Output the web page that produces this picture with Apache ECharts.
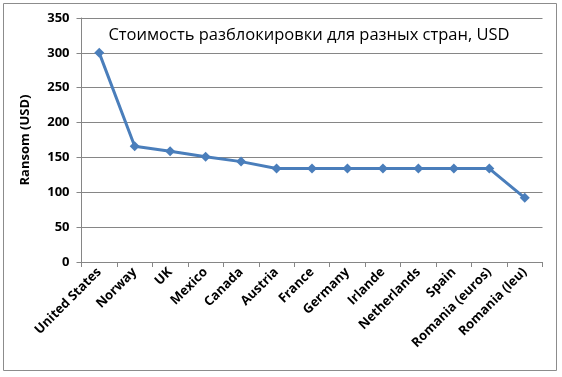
<!DOCTYPE html>
<html><head><meta charset="utf-8">
<script src="https://cdn.jsdelivr.net/npm/echarts@6/dist/echarts.min.js"></script>
<style>html,body{margin:0;padding:0;background:#fff}#c{width:562px;height:377px}</style>
</head><body><div id="c"></div>
<script>
const categories = ['United States','Norway','UK','Mexico','Canada','Austria','France','Germany','Irlande','Netherlands','Spain','Romania (euros)','Romania (leu)'];
const ransom = [300,166,159,151,144,134,134,134,134,134,134,134,92];
const yTicks = {min:0, max:350, interval:50};
const chart = echarts.init(document.getElementById('c'));
chart.setOption({
  animation:false,
  backgroundColor:'#fff',
  graphic:[{type:'rect',shape:{x:3.5,y:3.5,width:553,height:367},style:{fill:'none',stroke:'#8c8c8c',lineWidth:1}}],
  title:{text:'Стоимость разблокировки для разных стран, USD',left:304,top:22,textAlign:'center',
    textStyle:{fontFamily:'Open Sans',fontSize:16.5,fontWeight:'normal',color:'#000'}},
  grid:{left:81.5,right:19.5,top:18,bottom:115},
  xAxis:{type:'category',data:categories,boundaryGap:true,
    axisLine:{lineStyle:{color:'#868686',width:1}},
    axisTick:{show:true,length:5,lineStyle:{color:'#868686'}},
    axisLabel:{rotate:45,interval:0,fontFamily:'Open Sans',fontWeight:'bold',fontSize:13,color:'#000',margin:8}},
  yAxis:{type:'value',min:yTicks.min,max:yTicks.max,interval:yTicks.interval,
    name:'Ransom (USD)',nameLocation:'middle',nameGap:50,nameRotate:90,
    nameTextStyle:{fontFamily:'Open Sans',fontWeight:'bold',fontSize:13,color:'#000'},
    axisLine:{show:true,lineStyle:{color:'#868686'}},
    axisTick:{show:true,length:5,lineStyle:{color:'#868686'}},
    splitLine:{lineStyle:{color:'#868686',width:1}},
    axisLabel:{fontFamily:'Open Sans',fontWeight:'bold',fontSize:13,color:'#000',margin:12}},
  series:[{type:'line',data:ransom,symbol:'diamond',symbolSize:10,
    lineStyle:{color:'#4a7ebb',width:3},itemStyle:{color:'#4a7ebb'}}]
});
</script></body></html>
